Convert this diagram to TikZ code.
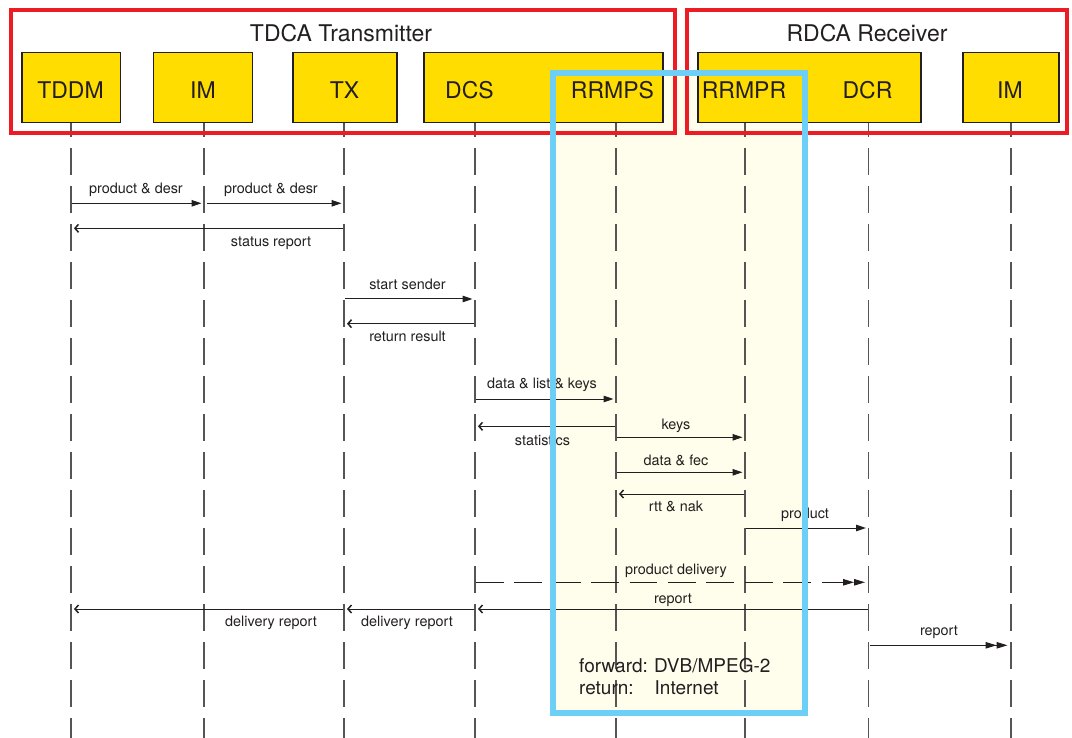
\documentclass[tikz,border=0pt]{standalone}
\usepackage{fontspec}
\setmainfont{TeX Gyre Heros}
\usetikzlibrary{arrows.meta}
\definecolor{boxgold}{RGB}{255,221,0}
\definecolor{frame}{RGB}{237,28,36}
\definecolor{hilite}{RGB}{109,207,246}
\definecolor{hilitefill}{RGB}{255,253,235}
\definecolor{ink}{RGB}{35,31,32}
\definecolor{lifegray}{RGB}{85,85,85}
\begin{document}
\begin{tikzpicture}[x=1pt,y=-1pt,
  hbox/.style={draw=ink, line width=1.6pt, fill=boxgold, minimum height=70pt, inner sep=0pt},
  htext/.style={font=\fontsize{23}{27}\selectfont, text=ink, anchor=base, inner sep=0pt},
  lifeline/.style={draw=lifegray, line width=1.3pt, dash pattern=on 27pt off 11pt, dash phase=12.7pt},
  msg/.style={draw=ink, line width=1pt, -{Triangle[length=10pt,width=6.5pt]}, shorten >=2.5pt, shorten <=1pt},
  ret/.style={draw=ink, line width=1pt, -{Straight Barb[length=3.5pt,width=8pt,line width=1.5pt]}, shorten >=3pt, shorten <=1pt},
  dbl/.style={draw=ink, line width=1pt, -{Triangle[length=11pt,width=6.5pt,sep=0pt]Triangle[length=11pt,width=6.5pt]}, shorten >=3.5pt, shorten <=1pt},
  dashmsg/.style={dbl, dash pattern=on 27.7pt off 10.7pt},
  lbl/.style={font=\fontsize{14.4}{17}\selectfont, text=ink, anchor=base, inner sep=0pt},
  note/.style={font=\fontsize{19}{22}\selectfont, text=ink, anchor=base west, inner sep=0pt},
]
\useasboundingbox (0,0) rectangle (1072,738);
\fill[white] (0,0) rectangle (1072,738);

% highlighted region fill
\fill[hilitefill] (553,73) rectangle (805,713);

% lifeline coordinates
\coordinate (Ltddm)  at (71,122.7);
\coordinate (Lim)    at (204,122.7);
\coordinate (Ltx)    at (344,122.7);
\coordinate (Ldcs)   at (475,122.7);
\coordinate (Lrrmps) at (616,122.7);
\coordinate (Lrrmpr) at (745,122.7);
\coordinate (Ldcr)   at (868.5,122.7);
\coordinate (Lim2)   at (1011,122.7);
\coordinate (Btddm)  at (71,738);
\coordinate (Bim)    at (204,738);
\coordinate (Btx)    at (344,738);
\coordinate (Bdcs)   at (475,738);
\coordinate (Brrmps) at (616,738);
\coordinate (Brrmpr) at (745,738);
\coordinate (Bdcr)   at (868.5,738);
\coordinate (Bim2)   at (1011,738);

\draw[lifeline] (Ltddm) -- (Btddm);
\draw[lifeline] (Lim) -- (Bim);
\draw[lifeline] (Ltx) -- (Btx);
\draw[lifeline] (Ldcs) -- (Bdcs);
\draw[lifeline] (Lrrmps) -- (Brrmps);
\draw[lifeline] (Lrrmpr) -- (Brrmpr);
\draw[lifeline] (Ldcr) -- (Bdcr);
\draw[lifeline] (Lim2) -- (Bim2);

% header boxes
\node[hbox, minimum width=98.6pt] (tddmbox) at (71,87.7) {};
\node[hbox, minimum width=98.7pt] (imbox) at (203,87.7) {};
\node[hbox, minimum width=104pt] (txbox) at (344.7,87.7) {};
\node[hbox, minimum width=239pt] (dcsbox) at (543.5,87.7) {};
\node[hbox, minimum width=223pt] (dcrbox) at (809.5,87.7) {};
\node[hbox, minimum width=96pt] (im2box) at (1011,87.7) {};

\node[htext] (tddmlbl) at (70.5,98.3) {TDDM};
\node[htext] (imlbl) at (203,98.3) {IM};
\node[htext] (txlbl) at (344.5,98.3) {TX};
\node[htext] (dcslbl) at (469.5,98.3) {DCS};
\node[htext] (rrmpslbl) at (612.5,98.3) {RRMPS};
\node[htext] (rrmprlbl) at (744,98.3) {RRMPR};
\node[htext] (dcrlbl) at (867.5,98.3) {DCR};
\node[htext] (im2lbl) at (1010,98.3) {IM};

% red frames
\draw[frame, line width=4pt] (11,9.7) rectangle (674.5,133);
\draw[frame, line width=4pt] (687,9.7) rectangle (1067,133);
\node[htext] (ttitle) at (341,41.3) {TDCA Transmitter};
\node[htext] (rtitle) at (867,41.5) {RDCA Receiver};

% messages
\draw[msg] (Ltddm |- 0,203.3) -- (Lim |- 0,203.3);
\draw[msg, shorten <=3pt] (Lim |- 0,203.3) -- (Ltx |- 0,203.3);
\draw[ret] (Ltx |- 0,228.3) -- (Ltddm |- 0,228.3);
\draw[msg] (Ltx |- 0,299) -- (Ldcs |- 0,299);
\draw[ret] (Ldcs |- 0,323.7) -- (Ltx |- 0,323.7);
\draw[msg] (Ldcs |- 0,399) -- (Lrrmps |- 0,399);
\draw[ret] (Lrrmps |- 0,426.3) -- (Ldcs |- 0,426.3);
\draw[msg] (Lrrmps |- 0,437.3) -- (Lrrmpr |- 0,437.3);
\draw[msg] (Lrrmps |- 0,472.3) -- (Lrrmpr |- 0,472.3);
\draw[ret] (Lrrmpr |- 0,494) -- (Lrrmps |- 0,494);
\draw[msg] (Lrrmpr |- 0,528) -- (Ldcr |- 0,528);
\draw[dashmsg] (Ldcs |- 0,582.3) -- (Ldcr |- 0,582.3);
\draw[ret] (Ldcr |- 0,609) -- (Ldcs |- 0,609);
\draw[ret] (Ldcs |- 0,609) -- (Ltx |- 0,609);
\draw[ret] (Ltx |- 0,609) -- (Ltddm |- 0,609);
\draw[dbl] (Ldcr |- 0,645.3) -- (Lim2 |- 0,645.3);

% message labels
\node[lbl] (m1) at (136,193.8) {product \& desr};
\node[lbl] (m2) at (271,193.8) {product \& desr};
\node[lbl] (m3) at (271,246.2) {status report};
\node[lbl] (m4) at (407.5,289.5) {start sender};
\node[lbl] (m5) at (407.5,341.2) {return result};
\node[lbl] (m6) at (542,388.5) {data \& list \& keys};
\node[lbl] (m7) at (542.5,445) {statistics};
\node[lbl] (m8) at (676,429) {keys};
\node[lbl] (m9) at (676,465) {data \& fec};
\node[lbl] (m10) at (676,511.5) {rtt \& nak};
\node[lbl] (m11) at (805,518.7) {product};
\node[lbl] (m12) at (676,574.5) {product delivery};
\node[lbl] (m13) at (673,603) {report};
\node[lbl] (m14) at (271,626.5) {delivery report};
\node[lbl] (m15) at (407,626.5) {delivery report};
\node[lbl] (m16) at (939,635.3) {report};

% highlight outline
\draw[hilite, line width=6pt] (553,73) rectangle (805,713);

% note
\node[note] (n1) at (579,672.3) {forward:};
\node[note] (n2) at (654,672.3) {DVB/MPEG-2};
\node[note] (n3) at (579,694) {return:};
\node[note] (n4) at (654.5,694) {Internet};
\end{tikzpicture}
\end{document}
